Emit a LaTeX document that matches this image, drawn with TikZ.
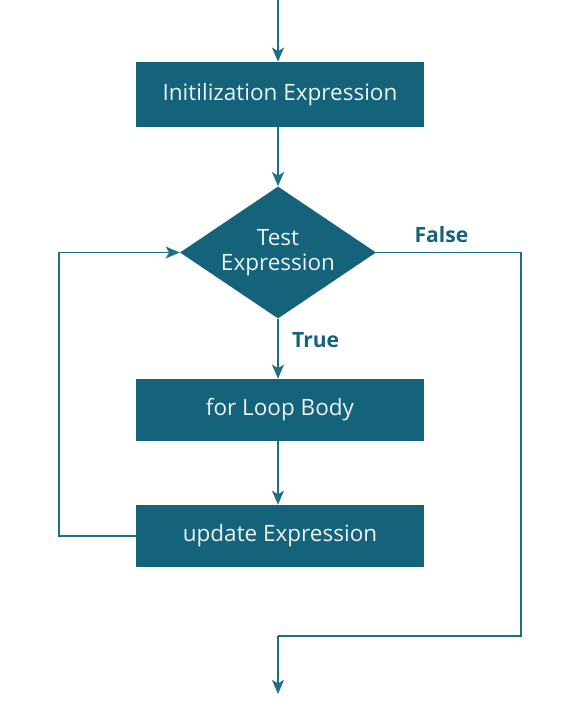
\documentclass[tikz,border=0pt]{standalone}
\usepackage{fontspec}
\setmainfont{Open Sans}
\usetikzlibrary{shapes.geometric, arrows.meta, positioning}
\definecolor{tealbox}{RGB}{21,99,123}
\definecolor{tealline}{RGB}{30,110,135}

\begin{document}
\begin{tikzpicture}[
  x=0.025cm, y=-0.025cm,
  blk/.style={rectangle, fill=tealbox, minimum width=7.2cm, minimum height=1.55cm, font=\fontsize{16}{18}\selectfont, text=white!92!tealbox, align=center, inner sep=0pt},
  dec/.style={diamond, fill=tealbox, minimum width=4.9cm, minimum height=3.3cm, font=\fontsize{16}{17.5}\selectfont, text=white!92!tealbox, align=center, inner sep=-20pt},
  lbl/.style={font=\fontsize{15}{17}\selectfont\bfseries, text=tealbox},
  arr/.style={-{Stealth[length=10pt, width=8.5pt, inset=2.5pt]}, draw=tealline, line width=1.4pt},
  lin/.style={draw=tealline, line width=1.4pt},
]
\useasboundingbox (0,0) rectangle (566,706);

%% Blocks
\coordinate (start) at (278,0);
\node[blk, minimum height=1.625cm] (init)   at (280,94.5)  {Initilization Expression};
\node[dec]                         (test)   at (278,252.5) {Test\\Expression};
\node[blk]                         (body)   at (280,410)   {for Loop Body};
\node[blk]                         (update) at (280,536)   {update Expression};

%% Bend points
\coordinate (loopbl) at (59,536);
\coordinate (looptl) at (59,252.5);
\coordinate (falsetr) at (521,252.5);
\coordinate (falsebr) at (521,636);
\coordinate (falsebl) at (278,636);
\coordinate (stop)    at (278,694);

%% Main flow
\draw[arr] (start) -- (start |- init.north);
\draw[arr] (init.south -| test.north) -- (test.north);
\draw[arr] (test.south) -- node[lbl, right=6pt, pos=0.35]{True} (test.south |- body.north);
\draw[arr] (body.south -| test.south) -- (test.south |- update.north);

%% Loop back
\draw[arr] (update.west) -- (loopbl) -- (looptl) -- (test.west);

%% Exit
\draw[lin] (test.east) -- node[lbl, above=3pt, pos=0.45]{False} (falsetr) -- (falsebr) -- (falsebl);
\draw[arr] (falsebl) -- (stop);
\end{tikzpicture}
\end{document}
